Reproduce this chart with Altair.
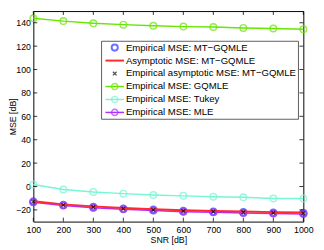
import altair as alt
import pandas as pd

snr = [100, 200, 300, 400, 500, 600, 700, 800, 900, 1000]
gqmle = [143.9, 141.4, 139.5, 138.4, 137.4, 136.7, 136.4, 135.6, 135.1, 134.5]
tukey = [1.7, -2.5, -4.7, -6.1, -7.2, -8.0, -8.8, -9.2, -10.3, -10.3]
mt_emp = [-13.0, -15.8, -17.6, -19.0, -20.0, -21.0, -21.6, -22.1, -22.5, -22.8]
mt_asym = [-12.6, -15.3, -17.0, -18.4, -19.5, -20.3, -20.9, -21.4, -21.9, -22.3]
mt_emp_asym = [-13.0, -15.8, -17.6, -19.0, -20.0, -21.0, -21.6, -22.1, -22.5, -22.8]
mle = [-13.5, -16.3, -18.2, -19.5, -20.6, -21.5, -22.1, -22.6, -23.1, -23.5]

x_ticks = [100, 200, 300, 400, 500, 600, 700, 800, 900, 1000]
y_ticks = [-20, 0, 20, 40, 60, 80, 100, 120, 140]

legend_labels = [
    "Empirical MSE: MT\u2212GQMLE",
    "Asymptotic MSE: MT\u2212GQMLE",
    "Empirical asymptotic MSE: MT\u2212GQMLE",
    "Empirical MSE: GQMLE",
    "Empirical MSE: Tukey",
    "Empirical MSE: MLE",
]

W, H = 277, 216
FONT = "Liberation Sans"

C_BLUE = "#3333ff"
C_RED = "#ff2a2a"
C_BLACK = "#000000"
C_GREEN = "#66e600"
C_TUKEY = "#77f5d5"
C_MLE = "#b030ff"
XSHAPE = "M-1,-1L1,1M-1,1L1,-1"

df = pd.DataFrame({
    "snr": snr, "gqmle": gqmle, "tukey": tukey, "mt_emp": mt_emp,
    "mt_asym": mt_asym, "mt_emp_asym": mt_emp_asym, "mle": mle,
})

xs = alt.Scale(domain=[100, 1000], nice=False, zero=False)
ys = alt.Scale(domain=[-30, 150], nice=False, zero=False)

X_AX = alt.Axis(
    values=x_ticks, format="d", title="SNR [dB]", tickSize=0, labelPadding=4,
    domain=False, grid=False, labelFontSize=9, titleFontSize=9,
    titleFontWeight="normal", titlePadding=1, labelFont=FONT, titleFont=FONT,
    labelColor="#000", titleColor="#000", labelFlush=False)
Y_AX = alt.Axis(
    values=y_ticks, format="d", title="MSE [dB]", tickSize=0, labelPadding=3,
    domain=False, grid=False, labelFontSize=9, titleFontSize=9,
    titleFontWeight="normal", titleBaseline="middle", titleX=-21,
    labelFont=FONT, titleFont=FONT, labelColor="#000", titleColor="#000")


def X(field="snr"):
    return alt.X(field + ":Q", scale=xs, axis=X_AX)


def Y(field):
    return alt.Y(field + ":Q", scale=ys, axis=Y_AX)


base = alt.Chart(df)

layers = []
# GQMLE
layers.append(base.mark_line(color=C_GREEN, strokeWidth=1.5).encode(x=X(), y=Y("gqmle")))
layers.append(base.mark_point(color=C_GREEN, shape="circle", size=45, strokeWidth=1.5, filled=False).encode(x=X(), y=Y("gqmle")))
# Tukey
layers.append(base.mark_line(color=C_TUKEY, strokeWidth=1.5).encode(x=X(), y=Y("tukey")))
layers.append(base.mark_point(color=C_TUKEY, shape="circle", size=45, strokeWidth=1.5, filled=False).encode(x=X(), y=Y("tukey")))
# MT-GQMLE empirical (blue circles)
layers.append(base.mark_point(color=C_BLUE, shape="circle", size=45, strokeWidth=2.2, filled=False).encode(x=X(), y=Y("mt_emp")))
# MLE
layers.append(base.mark_line(color=C_MLE, strokeWidth=1.5).encode(x=X(), y=Y("mle")))
layers.append(base.mark_point(color=C_MLE, shape="circle", size=45, strokeWidth=1.5, filled=False).encode(x=X(), y=Y("mle")))
# Asymptotic red line
layers.append(base.mark_line(color=C_RED, strokeWidth=2).encode(x=X(), y=Y("mt_asym")))
# Empirical asymptotic black x
layers.append(base.mark_point(color=C_BLACK, shape=XSHAPE, size=14, strokeWidth=1.2, filled=False).encode(x=X(), y=Y("mt_emp_asym")))

# inward ticks
xt = alt.Chart(pd.DataFrame({"snr": x_ticks}))
yt = alt.Chart(pd.DataFrame({"v": y_ticks}))
tick_style = dict(color="#000", strokeWidth=0.8)
layers.append(xt.mark_rule(**tick_style).encode(x=X(), y=alt.value(H), y2=alt.value(H - 4)))
layers.append(xt.mark_rule(**tick_style).encode(x=X(), y=alt.value(0), y2=alt.value(4)))
layers.append(yt.mark_rule(**tick_style).encode(y=Y("v"), x=alt.value(0), x2=alt.value(4)))
layers.append(yt.mark_rule(**tick_style).encode(y=Y("v"), x=alt.value(W), x2=alt.value(W - 4)))

# Legend (manual)
LX0, LX1, LY0, LY1 = 70, 272, 31, 111
row_y = [37.5, 50.8, 64.1, 77.4, 90.7, 104.0]
leg = pd.DataFrame({"label": legend_labels, "ly": row_y, "idx": list(range(6))})
lb = alt.Chart(leg)

layers.append(alt.Chart(pd.DataFrame({"a": [0]})).mark_rect(fill="white", stroke="#333", strokeWidth=0.8).encode(
    x=alt.value(LX0), x2=alt.value(LX1), y=alt.value(LY0), y2=alt.value(LY1)))

YL = alt.Y("ly:Q", scale=None, axis=None)
sym_x0, sym_x1, sym_c = 74, 93, 83.5


def sel(i):
    return lb.transform_filter(alt.datum.idx == i)


for i, col in [(1, C_RED), (3, C_GREEN), (4, C_TUKEY), (5, C_MLE)]:
    layers.append(sel(i).mark_rule(color=col, strokeWidth=2 if i == 1 else 1.5).encode(
        y=YL, x=alt.value(sym_x0), x2=alt.value(sym_x1)))
for i, col, sw in [(0, C_BLUE, 2.0), (3, C_GREEN, 1.5), (4, C_TUKEY, 1.5), (5, C_MLE, 1.5)]:
    layers.append(sel(i).mark_point(color=col, shape="circle", size=40, strokeWidth=sw, filled=False).encode(
        y=YL, x=alt.value(sym_c)))
layers.append(sel(2).mark_point(color=C_BLACK, shape=XSHAPE, size=14, strokeWidth=1.2, filled=False).encode(
    y=YL, x=alt.value(sym_c)))

layers.append(lb.mark_text(align="left", baseline="middle", fontSize=9.8, font=FONT, color="#000").encode(
    x=alt.value(95), y=YL, text="label:N"))

chart = alt.layer(*layers).properties(
    width=W, height=H,
    autosize=alt.AutoSizeParams(type="none"),
    padding={"left": 26, "top": 0, "right": 13, "bottom": 26},
    background="white",
).configure_view(stroke="#000", strokeWidth=1)

chart.save("out.html", embed_options={"renderer": "svg", "actions": False})
